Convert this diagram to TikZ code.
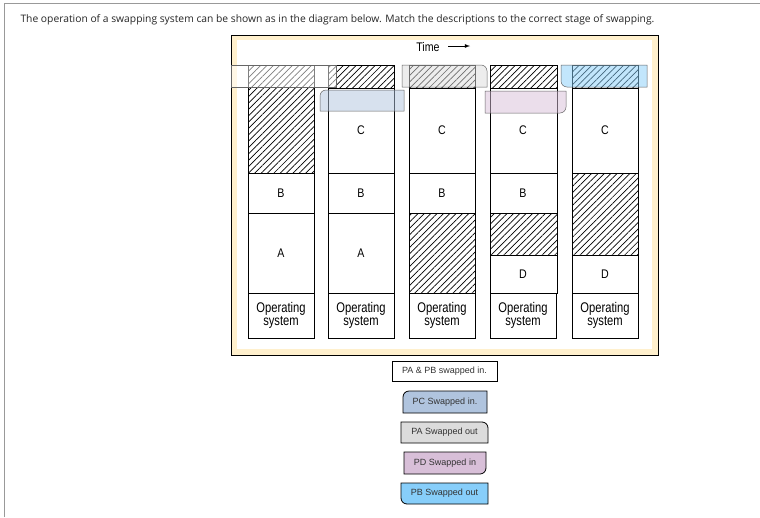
\documentclass[tikz,border=0pt]{standalone}
\usepackage{fontspec}
\setmainfont{Liberation Sans}
\newfontfamily\hdr{Open Sans}
\usetikzlibrary{patterns.meta}
\begin{document}
\begin{tikzpicture}[x=1pt,y=-1pt,
  mem/.style={draw=black,line width=0.8pt,fill=white},
  hat/.style={draw=black,line width=0.8pt,pattern={Lines[angle=45,distance=4.5pt,line width=0.7pt]}},
  lab/.style={font=\fontsize{12.5}{13}\selectfont\addfontfeature{FakeStretch=0.85}},
  osl/.style={font=\fontsize{14}{14}\selectfont\addfontfeature{FakeStretch=0.8},align=center},
  ov/.style={draw=black!60,line width=0.5pt,fill opacity=0.5},
  ans/.style={draw=black,line width=0.8pt},
  atext/.style={font=\fontsize{9}{10}\selectfont,text=black!80}]
\useasboundingbox (0,0) rectangle (760,517);
\fill[white] (0,0) rectangle (760,517);
\draw[black!40] (4,517) -- (4,3) -- (760,3);
\node[anchor=west,font=\hdr\fontsize{10.3}{11}\selectfont,text=black!85] (q) at (17,20) {The operation of a swapping system can be shown as in the diagram below. Match the descriptions to the correct stage of swapping.};
% panel
\draw[fill={rgb,255:red,255;green,240;blue,205},draw=black,line width=0.7pt] (231,35) rectangle (658,355);
\fill[white] (237,40) rectangle (652,349);
\node[lab] (time) at (428,47) {Time};
\coordinate (ta) at (448,46); \coordinate (tb) at (470,46);
\draw[-latex,line width=0.8pt] (ta) -- (tb);
\foreach \x in {248,328,409,490,572}{
  \draw[mem] (\x,293) rectangle ++(66,45);
  \node[osl] at (\x+33,315.5) {Operating\\[-1pt]system};
}
% col1
\draw[hat] (248,65) rectangle (314,173);
\draw[mem] (248,173) rectangle (314,213); \node[lab] (b1) at (281,193) {B};
\draw[mem] (248,213) rectangle (314,293); \node[lab] (a1) at (281,253) {A};
% col2
\draw[hat] (328,65) rectangle (394,88);
\draw[mem] (328,88) rectangle (394,173); \node[lab] (c2) at (361,130) {C};
\draw[mem] (328,173) rectangle (394,213); \node[lab] (b2) at (361,193) {B};
\draw[mem] (328,213) rectangle (394,293); \node[lab] (a2) at (361,253) {A};
% col3
\draw[hat] (409,65) rectangle (475,88);
\draw[mem] (409,88) rectangle (475,173); \node[lab] (c3) at (442,130) {C};
\draw[mem] (409,173) rectangle (475,213); \node[lab] (b3) at (442,193) {B};
\draw[hat] (409,213) rectangle (475,293);
% col4
\draw[hat] (490,65) rectangle (557,88);
\draw[mem] (490,88) rectangle (557,173); \node[lab] (c4) at (523,130) {C};
\draw[mem] (490,173) rectangle (557,213); \node[lab] (b4) at (523,193) {B};
\draw[hat] (490,213) rectangle (557,255);
\draw[mem] (490,255) rectangle (557,293); \node[lab] (d4) at (523,274) {D};
% col5
\draw[hat] (572,65) rectangle (638,88);
\draw[mem] (572,88) rectangle (638,173); \node[lab] (c5) at (605,130) {C};
\draw[hat] (572,173) rectangle (638,255);
\draw[mem] (572,255) rectangle (638,293); \node[lab] (d5) at (605,274) {D};
% overlays
\draw[ov,fill=white] (231,65) rectangle (336,87);
\draw[ov,fill={rgb,255:red,176;green,196;blue,222}] (320,111) [rounded corners=6] -- (320,90) [sharp corners] -- (404,90) -- (404,111) -- cycle;
\draw[ov,fill={rgb,255:red,220;green,220;blue,220}] (402,65) [rounded corners=6] -- (487,65) [sharp corners] -- (487,87) -- (402,87) -- cycle;
\draw[ov,fill={rgb,255:red,216;green,191;blue,216}] (485,91) -- (566,91) [rounded corners=6] -- (566,113) [sharp corners] -- (485,113) -- cycle;
\draw[ov,fill={rgb,255:red,135;green,206;blue,250}] (561,65) -- (647,65) -- (647,87) [rounded corners=6] -- (561,87) [sharp corners] -- cycle;
% answers
\draw[ans,fill=white] (392,361) rectangle (497,381);
\node[atext] (ab) at (444.5,371) {PA \& PB swapped in.};
\draw[ans,fill={rgb,255:red,176;green,196;blue,222}] (403,413) [rounded corners=6] -- (403,391) [sharp corners] -- (487,391) -- (487,413) -- cycle;
\node[atext] (pc) at (445,402) {PC Swapped in.};
\draw[ans,fill={rgb,255:red,220;green,220;blue,220}] (401,422) [rounded corners=6] -- (488,422) [sharp corners] -- (488,443) -- (401,443) -- cycle;
\node[atext] (pa) at (444.5,432.5) {PA Swapped out};
\draw[ans,fill={rgb,255:red,216;green,191;blue,216}] (404,452) -- (486,452) [rounded corners=6] -- (486,474) [sharp corners] -- (404,474) -- cycle;
\node[atext] (pd) at (445,463) {PD Swapped in};
\draw[ans,fill={rgb,255:red,135;green,206;blue,250}] (401,483) -- (488,483) -- (488,504) [rounded corners=6] -- (401,504) [sharp corners] -- cycle;
\node[atext] (pb) at (444.5,493.5) {PB Swapped out};
\end{tikzpicture}
\end{document}
